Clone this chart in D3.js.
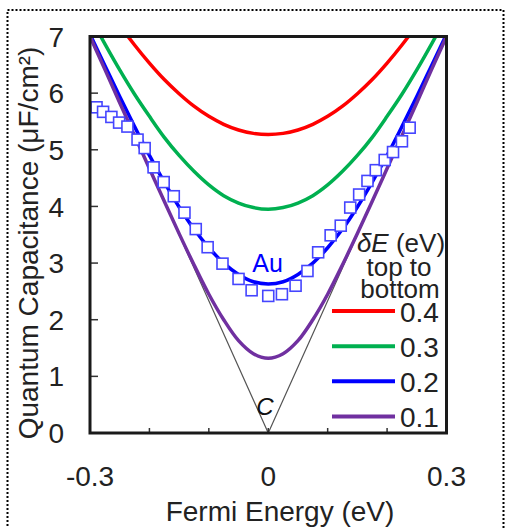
<!DOCTYPE html>
<html>
<head>
<meta charset="utf-8">
<script src="https://cdn.jsdelivr.net/npm/d3@7"></script>
<style>
  html, body { margin: 0; padding: 0; background: #fff; }
  svg { display: block; font-family: "Liberation Sans", Arial, sans-serif; }
</style>
</head>
<body>
<svg id="chart" width="505" height="528"></svg>
<script>
// Fermi energy grid (eV) for the broadened model curves
const energy = [-0.3, -0.275, -0.25, -0.225, -0.2, -0.175, -0.15, -0.125, -0.1, -0.075, -0.05, -0.025, 0,
                0.025, 0.05, 0.075, 0.1, 0.125, 0.15, 0.175, 0.2, 0.225, 0.25, 0.275, 0.3];

// Quantum capacitance (uF/cm^2) for each broadening dE
const cap04 = [7.98, 7.58, 7.20, 6.85, 6.53, 6.24, 5.99, 5.77, 5.59, 5.45, 5.35, 5.29, 5.27,
               5.29, 5.35, 5.45, 5.59, 5.77, 5.99, 6.24, 6.53, 6.85, 7.20, 7.58, 7.98];
const cap03 = [7.35, 6.87, 6.41, 5.98, 5.59, 5.22, 4.90, 4.62, 4.38, 4.19, 4.06, 3.98, 3.95,
               3.98, 4.06, 4.19, 4.38, 4.62, 4.90, 5.22, 5.59, 5.98, 6.41, 6.87, 7.35];
const cap02 = [7.04, 6.49, 5.94, 5.41, 4.90, 4.43, 3.99, 3.60, 3.27, 3.00, 2.80, 2.67, 2.63,
               2.67, 2.80, 3.00, 3.27, 3.60, 3.99, 4.43, 4.90, 5.41, 5.94, 6.49, 7.04];
const cap01 = [7.00, 6.42, 5.83, 5.25, 4.67, 4.09, 3.52, 2.97, 2.45, 2.00, 1.63, 1.40, 1.32,
               1.40, 1.63, 2.00, 2.45, 2.97, 3.52, 4.09, 4.67, 5.25, 5.83, 6.42, 7.00];

// Ideal (unbroadened) graphene: linear in |E|
const idealEnergy = [-0.3, 0, 0.3];
const idealCap = [7, 0, 7];

// Measured points with Au contact
const auEnergy = [-0.289, -0.278, -0.264, -0.251, -0.237, -0.220, -0.208, -0.193, -0.176, -0.159, -0.141,
                  -0.122, -0.102, -0.077, -0.050, -0.028, 0.000, 0.023, 0.046, 0.066, 0.084, 0.105,
                  0.122, 0.138, 0.153, 0.167, 0.181, 0.196, 0.210, 0.225, 0.238];
const auCap = [5.75, 5.67, 5.58, 5.48, 5.41, 5.18, 5.03, 4.69, 4.43, 4.18, 3.89,
               3.60, 3.28, 2.99, 2.72, 2.52, 2.42, 2.45, 2.60, 2.86, 3.19, 3.49,
               3.66, 3.98, 4.21, 4.45, 4.64, 4.82, 4.96, 5.15, 5.39];

const legendLabels = ["0.4", "0.3", "0.2", "0.1"];
const seriesColors = ["#ff0000", "#00b050", "#0000ff", "#7030a0"];
const seriesValues = [cap04, cap03, cap02, cap01];

const xTickValues = [-0.3, 0, 0.3];
const xMinorTicks = [-0.2, -0.1, 0, 0.1, 0.2];
const yTickValues = [0, 1, 2, 3, 4, 5, 6, 7];

const svg = d3.select("#chart");
const plotL = 90, plotR = 446.5, plotT = 36.5, plotB = 433;

const x = d3.scaleLinear().domain([-0.3, 0.3]).range([plotL, plotR]);
const y = d3.scaleLinear().domain([0, 7]).range([plotB, plotT]);

// dotted outer frame
svg.append("rect")
  .attr("x", 7.5).attr("y", 10).attr("width", 496).attr("height", 540)
  .attr("fill", "none").attr("stroke", "#000").attr("stroke-width", 2)
  .attr("stroke-dasharray", "2,2");

svg.append("clipPath").attr("id", "plotClip")
  .append("rect").attr("x", plotL).attr("y", plotT)
  .attr("width", plotR - plotL).attr("height", plotB - plotT);

const plot = svg.append("g").attr("clip-path", "url(#plotClip)");

// ideal V line
plot.append("path")
  .datum(d3.zip(idealEnergy, idealCap))
  .attr("fill", "none").attr("stroke", "#555").attr("stroke-width", 1.2)
  .attr("d", d3.line().x(d => x(d[0])).y(d => y(d[1])));

// broadened curves
const line = d3.line().x(d => x(d[0])).y(d => y(d[1])).curve(d3.curveCatmullRom.alpha(0.5));
seriesValues.forEach((vals, i) => {
  plot.append("path")
    .datum(d3.zip(energy, vals))
    .attr("fill", "none")
    .attr("stroke", seriesColors[i])
    .attr("stroke-width", 3.5)
    .attr("d", line);
});

// Au data squares
const sq = 11;
plot.selectAll("rect.au")
  .data(d3.zip(auEnergy, auCap))
  .join("rect")
  .attr("class", "au")
  .attr("x", d => x(d[0]) - sq / 2)
  .attr("y", d => y(d[1]) - sq / 2)
  .attr("width", sq).attr("height", sq)
  .attr("fill", "#fff")
  .attr("stroke", "#4545ff")
  .attr("stroke-width", 1.6);

// axes ticks (inward)
const tickColor = "#333";
svg.append("g").selectAll("line")
  .data(xMinorTicks).join("line")
  .attr("x1", d => x(d)).attr("x2", d => x(d))
  .attr("y1", plotB).attr("y2", plotB - 5)
  .attr("stroke", tickColor).attr("stroke-width", 1.5);
svg.append("g").selectAll("line")
  .data(yTickValues.slice(1, -1)).join("line")
  .attr("x1", plotL).attr("x2", plotL + 8)
  .attr("y1", d => y(d)).attr("y2", d => y(d))
  .attr("stroke", tickColor).attr("stroke-width", 1.5);

// plot frame
svg.append("rect")
  .attr("x", plotL).attr("y", plotT)
  .attr("width", plotR - plotL).attr("height", plotB - plotT)
  .attr("fill", "none").attr("stroke", "#1a1a1a").attr("stroke-width", 3);

// tick labels
const fs = 28;
svg.append("g").selectAll("text")
  .data(yTickValues).join("text")
  .attr("x", 64).attr("y", d => y(d))
  .attr("dy", "0.36em")
  .attr("text-anchor", "end")
  .attr("font-size", fs).attr("fill", "#222")
  .text(d => String(d));

svg.append("g").selectAll("text")
  .data(xTickValues).join("text")
  .attr("x", d => x(d)).attr("y", 486)
  .attr("text-anchor", "middle")
  .attr("font-size", fs).attr("fill", "#222")
  .text(d => d === 0 ? "0" : d.toFixed(1));

// axis titles
svg.append("text")
  .attr("x", 280).attr("y", 521)
  .attr("text-anchor", "middle")
  .attr("font-size", fs).attr("fill", "#222")
  .text("Fermi Energy (eV)");

svg.append("text")
  .attr("transform", "translate(38,243) rotate(-90)")
  .attr("text-anchor", "middle")
  .attr("font-size", fs).attr("fill", "#222")
  .text("Quantum Capacitance (μF/cm²)");

// in-plot labels
svg.append("text")
  .attr("x", 267.5).attr("y", 272)
  .attr("text-anchor", "middle")
  .attr("font-size", 25).attr("fill", "#0000ff")
  .text("Au");

svg.append("text")
  .attr("x", 265).attr("y", 415)
  .attr("text-anchor", "middle")
  .attr("font-size", 24).attr("font-style", "italic").attr("fill", "#111")
  .text("C");

// legend
const lfs = 26;
const title = svg.append("text")
  .attr("x", 401).attr("y", 252)
  .attr("text-anchor", "middle")
  .attr("font-size", lfs).attr("fill", "#222");
title.append("tspan").attr("font-style", "italic").text("δE");
title.append("tspan").text(" (eV)");

svg.append("text").attr("x", 399).attr("y", 276)
  .attr("text-anchor", "middle").attr("font-size", lfs).attr("fill", "#222")
  .text("top to");
svg.append("text").attr("x", 400).attr("y", 298)
  .attr("text-anchor", "middle").attr("font-size", lfs).attr("fill", "#222")
  .text("bottom");

const legendY = d3.scaleLinear().domain([0, 3]).range([311, 416.5]);
legendLabels.forEach((lab, i) => {
  svg.append("line")
    .attr("x1", 332).attr("x2", 395)
    .attr("y1", legendY(i)).attr("y2", legendY(i))
    .attr("stroke", seriesColors[i]).attr("stroke-width", 4);
  svg.append("text")
    .attr("x", 400).attr("y", legendY(i) + 10.5)
    .attr("font-size", fs).attr("fill", "#222")
    .text(lab);
});
</script>
</body>
</html>
